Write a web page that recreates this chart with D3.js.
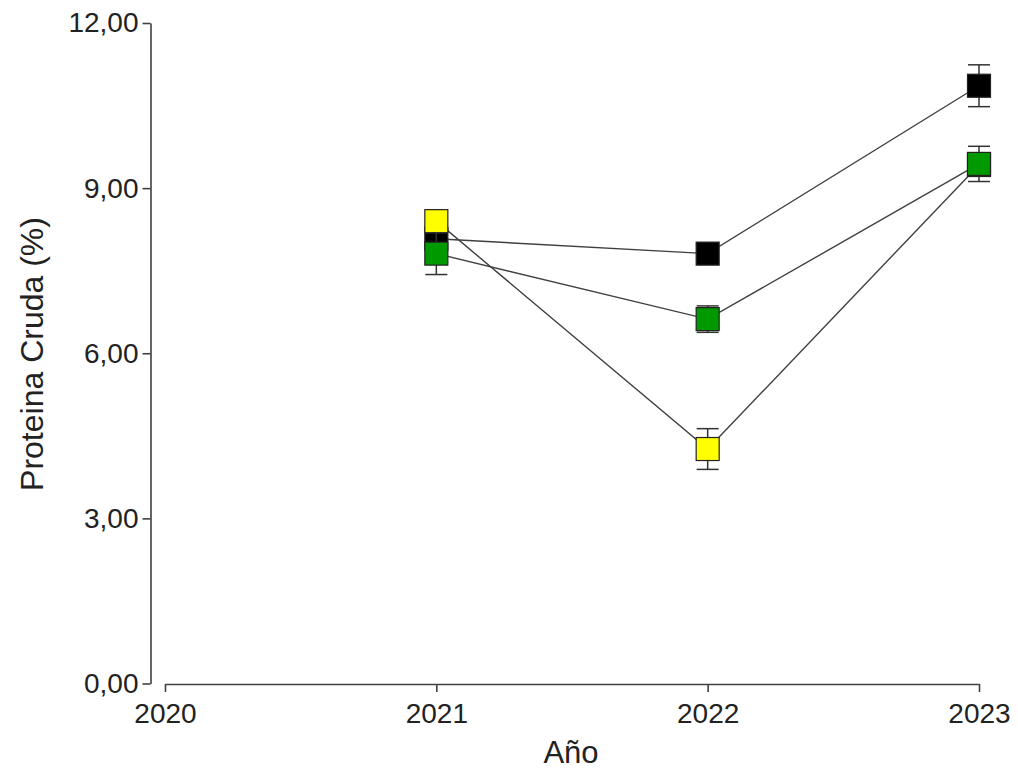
<!DOCTYPE html>
<html><head><meta charset="utf-8">
<script src="https://cdn.jsdelivr.net/npm/d3@7"></script>
<style>body{margin:0;background:#fff}svg{display:block}text{font-family:"Liberation Sans",Arial,sans-serif;fill:#222}</style>
</head><body><svg id="c" width="1018" height="771"></svg>
<script>
const years = [2021, 2022, 2023];
const yTicks = [0, 3, 6, 9, 12];
const xTicks = [2020, 2021, 2022, 2023];
const blackVals = [8.08, 7.81, 10.86];
const blackErr = [0.10, 0.10, 0.38];
const yellowVals = [8.40, 4.26, 9.42];
const yellowErr = [0.05, 0.37, 0.10];
const greenVals = [7.81, 6.62, 9.44];
const greenErr = [0.38, 0.24, 0.32];
const seriesNames = ["black", "yellow", "green"];
const seriesColors = ["#000000", "#ffff00", "#009900"];

const series = [
  {name: seriesNames[0], color: seriesColors[0], vals: blackVals, err: blackErr},
  {name: seriesNames[1], color: seriesColors[1], vals: yellowVals, err: yellowErr},
  {name: seriesNames[2], color: seriesColors[2], vals: greenVals, err: greenErr}
];

const svg = d3.select("#c");
const x = d3.scaleLinear().domain([2020, 2023]).range([165, 979]);
const y = d3.scaleLinear().domain([0, 12]).range([683.5, 23]);
const fmt = d => d.toFixed(2).replace(".", ",");

const yAx = svg.append("g").attr("transform", "translate(150.5,0)")
  .call(d3.axisLeft(y).tickValues(yTicks).tickFormat(fmt).tickSize(8).tickSizeOuter(0).tickPadding(4));
const xAx = svg.append("g").attr("transform", "translate(0,684)")
  .call(d3.axisBottom(x).tickValues(xTicks).tickFormat(d3.format("d")).tickSize(8).tickSizeOuter(0).tickPadding(6));
[yAx, xAx].forEach(g => {
  g.selectAll("path,line").attr("stroke", "#404040").attr("stroke-width", 1.6);
  g.selectAll("text").attr("font-size", 28).style("fill", "#222");
});
xAx.selectAll("text").attr("dy", "0.88em");

svg.append("text").attr("x", 571).attr("y", 763).attr("text-anchor", "middle")
  .attr("font-size", 31).text("Año");
svg.append("text").attr("transform", "translate(43,354) rotate(-90)")
  .attr("text-anchor", "middle").attr("font-size", 32).text("Proteina Cruda (%)");

const line = d3.line().x(d => x(d[0])).y(d => y(d[1]));
series.forEach(s => {
  svg.append("path").datum(years.map((yr, i) => [yr, s.vals[i]]))
    .attr("d", line).attr("fill", "none").attr("stroke", "#404040").attr("stroke-width", 1.4);
});

const half = 11.5, cap = 11;
series.forEach(s => {
  const g = svg.append("g");
  years.forEach((yr, i) => {
    const cx = x(yr), v = s.vals[i], e = s.err[i];
    const y1 = y(v + e), y2 = y(v - e);
    g.append("line").attr("x1", cx).attr("x2", cx).attr("y1", y1).attr("y2", y2)
      .attr("stroke", "#333").attr("stroke-width", 1.5);
    [y1, y2].forEach(yy => g.append("line").attr("x1", cx - cap).attr("x2", cx + cap)
      .attr("y1", yy).attr("y2", yy).attr("stroke", "#333").attr("stroke-width", 1.5));
    g.append("rect").attr("x", cx - half).attr("y", y(v) - half)
      .attr("width", 2 * half).attr("height", 2 * half)
      .attr("fill", s.color).attr("stroke", "#222").attr("stroke-width", 1.2);
  });
});
</script></body></html>
